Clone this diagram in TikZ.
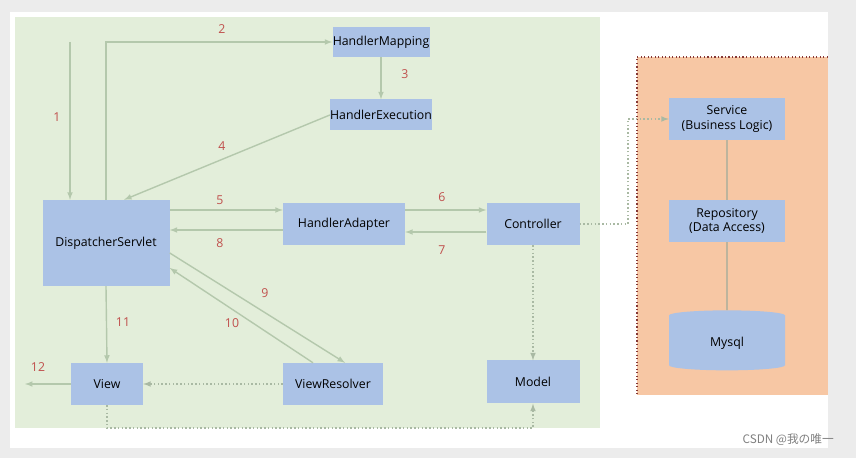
\documentclass[tikz,border=0pt]{standalone}
\usepackage{fontspec}
\setmainfont{Open Sans}
\newfontfamily\cjk{Noto Sans CJK SC}
\usetikzlibrary{shapes.geometric}
\definecolor{boxblue}{RGB}{171,194,230}
\definecolor{panelgreen}{RGB}{227,238,218}
\definecolor{linegreen}{RGB}{180,200,172}
\definecolor{numred}{RGB}{192,80,77}
\definecolor{orangefill}{RGB}{247,199,164}
\tikzset{
  box/.style={fill=boxblue, inner sep=0pt, font=\fontsize{10.5}{12.5}\selectfont, align=center},
  flow/.style={draw=linegreen, line width=1.2pt, -latex},
  dots/.style={draw=linegreen!80!gray, line width=1.2pt, dotted},
  num/.style={text=numred, font=\fontsize{10.5}{12}\selectfont}
}
\begin{document}
\begin{tikzpicture}[x=0.03cm, y=-0.03cm]
% background
\fill[gray!15] (0,0) rectangle (856,458);
\fill[white] (10,12) rectangle (828,448);
\fill[panelgreen] (15,17) rectangle (600,428);
\fill[orangefill] (637,57) rectangle (828,395);
\draw[numred!70!black, dotted, line width=1pt] (828,57) -- (637,57) -- (637,395);
% nodes
\node[box, minimum width=97*0.03cm, minimum height=30*0.03cm] (hm) at (381,42) {HandlerMapping};
\node[box, minimum width=97*0.03cm, minimum height=31*0.03cm] (he) at (381,115) {HandlerExecution};
\node[box, minimum width=127*0.03cm, minimum height=86*0.03cm] (ds) at (106,243) {DispatcherServlet};
\node[box, minimum width=122*0.03cm, minimum height=42*0.03cm] (ha) at (344,224) {HandlerAdapter};
\node[box, minimum width=93*0.03cm, minimum height=42*0.03cm] (ctrl) at (533,224) {Controller};
\node[box, minimum width=72*0.03cm, minimum height=42*0.03cm] (view) at (107,384) {View};
\node[box, minimum width=100*0.03cm, minimum height=42*0.03cm] (vr) at (333,384) {ViewResolver};
\node[box, minimum width=93*0.03cm, minimum height=43*0.03cm] (model) at (533,382) {Model};
\node[box, minimum width=116*0.03cm, minimum height=42*0.03cm] (svc) at (727,119) {Service\\(Business Logic)};
\node[box, minimum width=116*0.03cm, minimum height=42*0.03cm] (repo) at (727,221) {Repository\\(Data Access)};
\node[box, cylinder, shape border rotate=90, aspect=0.3, minimum width=116*0.03cm, minimum height=60*0.03cm] (db) at (727,343) {Mysql};
\coordinate (in) at (70,42);
\coordinate (out) at (25,384);
\coordinate (bl) at (107,428);
\coordinate (br) at (533,428);
\coordinate (cr) at (628,224);
\coordinate (sr) at (628,119);
% connectors
\draw[flow] (in) -- (in |- ds.north);
\draw[flow] (ds.north) |- (hm.west);
\draw[flow] (hm) -- (he);
\draw[flow] (he.west) -- ([xshift=18*0.03cm]ds.north);
\draw[flow] (ds.east |- 0,210) -- (ha.west |- 0,210);
\draw[flow] (ha.west |- 0,230) -- (ds.east |- 0,230);
\draw[flow] (ha.east |- 0,210) -- (ctrl.west |- 0,210);
\draw[flow] (ctrl.west |- 0,232) -- (ha.east |- 0,232);
\draw[flow] (ds.east |- 0,253) -- ([xshift=12*0.03cm]vr.north);
\draw[flow] ([xshift=-20*0.03cm]vr.north) -- (ds.east |- 0,268);
\draw[flow] (ds.south) -- (view.north);
\draw[flow] (view.west) -- (out);
\draw[dots, -latex] (vr.west) -- (view.east);
\draw[dots, -latex] (ctrl.south) -- (model.north);
\draw[dots, -latex] (view.south) -- (bl) -- (br) -- (model.south);
\draw[dots, -latex] (ctrl.east) -- (cr) -- (sr) -- (svc.west);
\draw[linegreen!60!gray, line width=1pt] (svc) -- (repo) -- (db);
% numbers
\node[num] (n1) at (57,117) {1};
\node[num] (n2) at (222,29) {2};
\node[num] (n3) at (405,74) {3};
\node[num] (n4) at (222,146) {4};
\node[num] (n5) at (220,200) {5};
\node[num] (n6) at (442,197) {6};
\node[num] (n7) at (442,250) {7};
\node[num] (n8) at (220,243) {8};
\node[num] (n9) at (265,293) {9};
\node[num] (n10) at (232,323) {10};
\node[num] (n11) at (123,322) {11};
\node[num] (n12) at (38,367) {12};
\node[anchor=east, text=gray, font=\cjk\fontsize{10}{12}\selectfont] (mark) at (838,440) {CSDN @我の唯一};
\end{tikzpicture}
\end{document}
